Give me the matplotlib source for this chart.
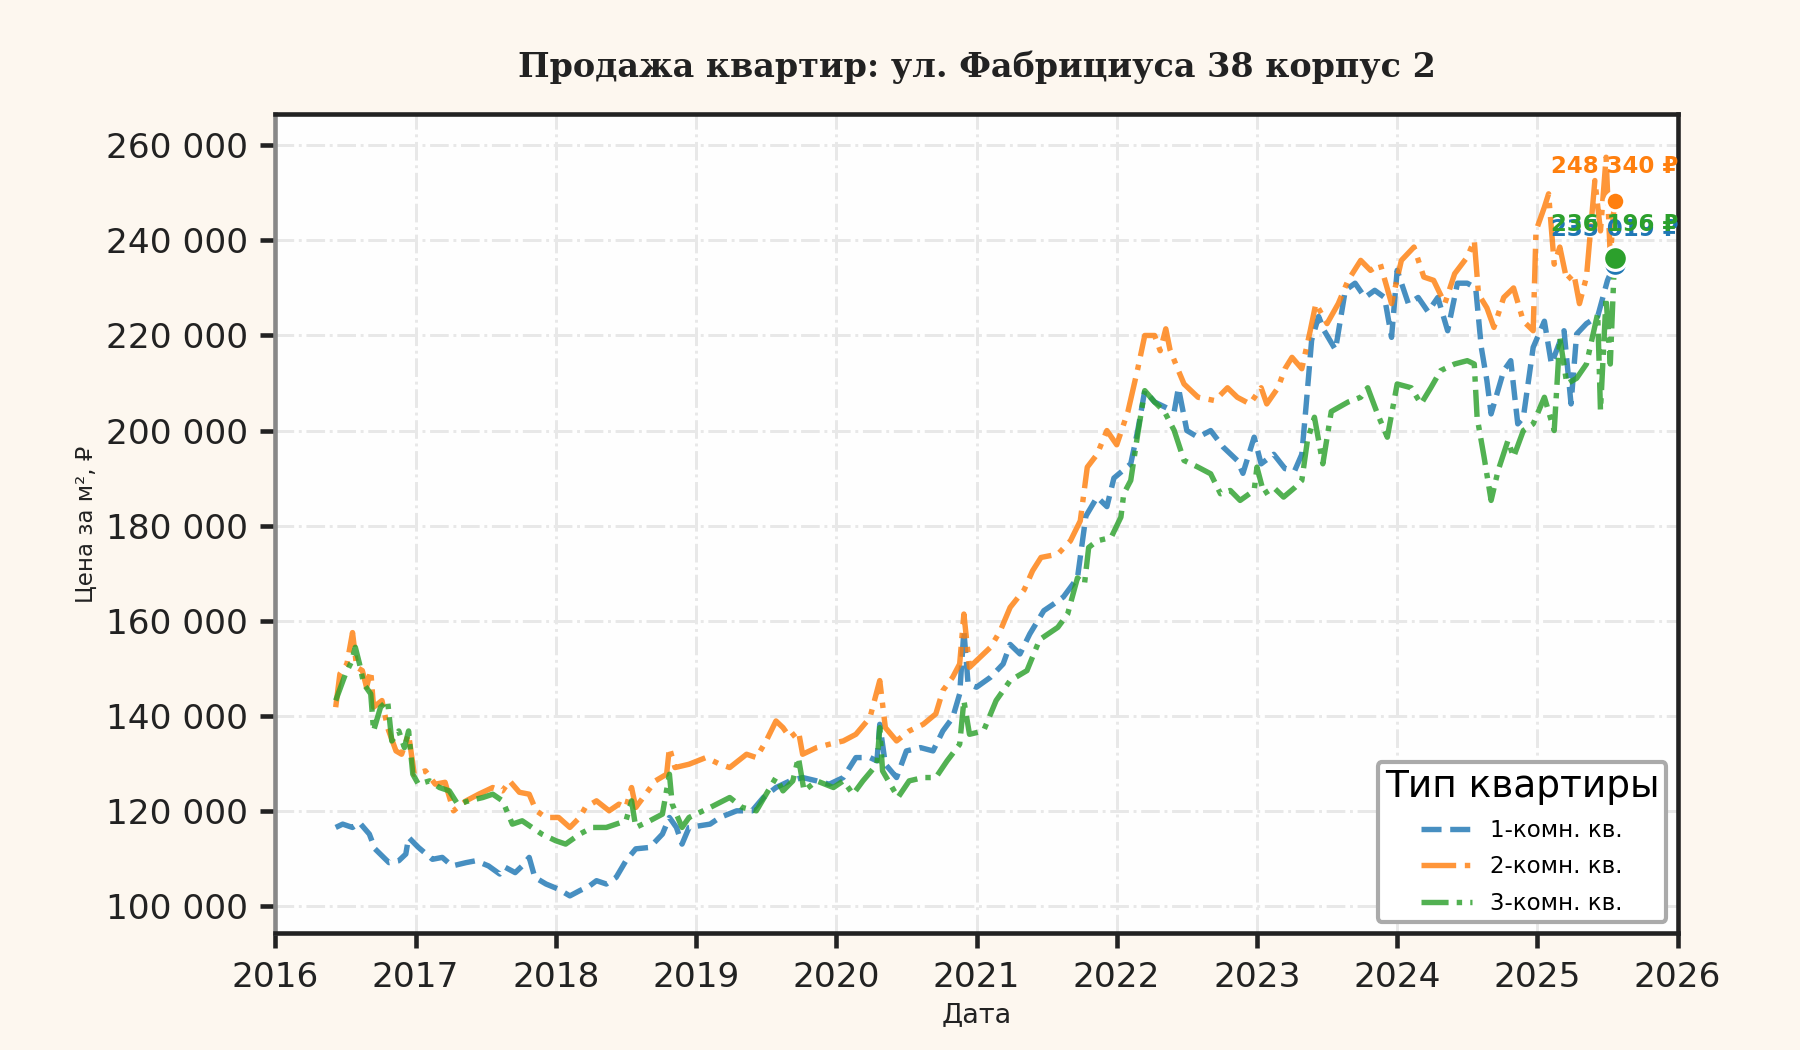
"""Продажа квартир: ул. Фабрициуса 38 корпус 2 — цена за м² по типам квартир."""

import numpy as np
import matplotlib
matplotlib.use("Agg")
import matplotlib.pyplot as plt
from matplotlib.ticker import FuncFormatter

plt.rcParams.update({
    "font.family": "DejaVu Sans",
    "figure.dpi": 150,
})

# ── Data (decimal year, thousand ₽ per m²) ────────────────────────────────
t_1k = [2016.43, 2016.48, 2016.55, 2016.60, 2016.67, 2016.71, 2016.81, 2016.88, 2016.93, 2016.95,
        2017.02, 2017.12, 2017.19, 2017.26, 2017.36, 2017.43, 2017.52, 2017.60, 2017.64, 2017.71,
        2017.76, 2017.81, 2017.85, 2017.93, 2018.02, 2018.10, 2018.17, 2018.24, 2018.29, 2018.36,
        2018.43, 2018.50, 2018.57, 2018.67, 2018.76, 2018.81, 2018.86, 2018.90, 2018.95, 2019.10,
        2019.17, 2019.29, 2019.40, 2019.48, 2019.57, 2019.67, 2019.76, 2019.86, 2019.95, 2020.05,
        2020.14, 2020.24, 2020.29, 2020.31, 2020.35, 2020.43, 2020.50, 2020.60, 2020.69, 2020.76,
        2020.83, 2020.88, 2020.91, 2020.94, 2021.00, 2021.10, 2021.19, 2021.24, 2021.31, 2021.38,
        2021.48, 2021.55, 2021.62, 2021.72, 2021.78, 2021.86, 2021.93, 2021.98, 2022.10, 2022.15,
        2022.20, 2022.27, 2022.34, 2022.41, 2022.44, 2022.50, 2022.58, 2022.67, 2022.76, 2022.86,
        2022.90, 2022.98, 2023.03, 2023.12, 2023.20, 2023.27, 2023.32, 2023.35, 2023.39, 2023.44,
        2023.48, 2023.56, 2023.63, 2023.70, 2023.77, 2023.84, 2023.91, 2023.96, 2024.00, 2024.08,
        2024.15, 2024.22, 2024.29, 2024.36, 2024.43, 2024.50, 2024.56, 2024.60, 2024.64, 2024.67,
        2024.76, 2024.81, 2024.86, 2024.90, 2024.97, 2025.05, 2025.10, 2025.19, 2025.24, 2025.28,
        2025.35, 2025.43, 2025.50, 2025.55]
p_1k = [116.5, 117.2, 116.5, 117.5, 115.1, 112.0, 109.1, 109.5, 110.9, 114.4,
        112.3, 109.8, 110.2, 108.4, 109.1, 109.5, 108.4, 106.7, 108.1, 107.0,
        108.4, 110.2, 106.0, 104.6, 103.5, 102.1, 103.2, 104.2, 105.3, 104.6,
        106.0, 109.5, 112.0, 112.3, 115.1, 118.6, 116.5, 113.0, 116.5, 117.2,
        118.6, 120.0, 120.0, 122.8, 124.9, 126.3, 127.0, 126.3, 125.6, 127.0,
        131.2, 131.2, 130.5, 138.2, 129.8, 127.0, 132.6, 133.3, 132.6, 136.8,
        139.6, 144.6, 157.9, 146.7, 146.0, 148.1, 150.9, 155.0, 153.0, 157.2,
        162.1, 163.5, 165.0, 169.0, 182.0, 186.0, 184.0, 190.0, 193.0, 200.0,
        208.4, 206.0, 205.0, 204.0, 209.0, 200.0, 198.6, 200.0, 196.5, 193.7,
        191.0, 198.6, 193.0, 195.0, 192.0, 191.6, 195.0, 205.0, 219.0, 224.0,
        221.0, 217.0, 229.5, 231.0, 228.0, 229.5, 228.0, 219.6, 233.7, 226.7,
        228.0, 225.0, 228.0, 221.0, 231.0, 231.0, 230.0, 217.5, 210.5, 203.5,
        212.6, 214.7, 201.4, 202.8, 217.5, 223.0, 214.0, 221.0, 205.6, 220.3,
        222.5, 224.0, 231.6, 235.019]

t_2k = [2016.43, 2016.46, 2016.51, 2016.55, 2016.58, 2016.62, 2016.65, 2016.68, 2016.70, 2016.76,
        2016.80, 2016.86, 2016.90, 2016.95, 2016.99, 2017.07, 2017.14, 2017.21, 2017.27, 2017.36,
        2017.45, 2017.55, 2017.62, 2017.67, 2017.74, 2017.81, 2017.86, 2017.93, 2018.02, 2018.10,
        2018.17, 2018.21, 2018.29, 2018.38, 2018.45, 2018.50, 2018.54, 2018.57, 2018.64, 2018.71,
        2018.79, 2018.81, 2018.85, 2018.95, 2019.07, 2019.17, 2019.24, 2019.36, 2019.43, 2019.50,
        2019.57, 2019.62, 2019.67, 2019.73, 2019.76, 2019.86, 2019.95, 2020.05, 2020.14, 2020.24,
        2020.31, 2020.35, 2020.43, 2020.52, 2020.62, 2020.71, 2020.76, 2020.83, 2020.88, 2020.91,
        2020.95, 2021.00, 2021.10, 2021.17, 2021.24, 2021.34, 2021.40, 2021.46, 2021.58, 2021.67,
        2021.74, 2021.79, 2021.86, 2021.93, 2022.00, 2022.08, 2022.15, 2022.20, 2022.27, 2022.31,
        2022.35, 2022.38, 2022.44, 2022.48, 2022.58, 2022.70, 2022.79, 2022.86, 2022.95, 2023.03,
        2023.07, 2023.15, 2023.20, 2023.25, 2023.32, 2023.38, 2023.42, 2023.50, 2023.58, 2023.65,
        2023.74, 2023.81, 2023.88, 2023.96, 2024.03, 2024.12, 2024.19, 2024.26, 2024.34, 2024.41,
        2024.50, 2024.55, 2024.58, 2024.64, 2024.69, 2024.76, 2024.83, 2024.90, 2024.97, 2024.99,
        2025.05, 2025.08, 2025.12, 2025.16, 2025.21, 2025.26, 2025.30, 2025.35, 2025.41, 2025.45,
        2025.49, 2025.52, 2025.55]
p_2k = [141.8, 148.8, 150.9, 157.5, 150.2, 149.5, 146.0, 149.5, 141.8, 143.2,
        137.5, 132.6, 131.9, 136.1, 127.7, 128.4, 125.6, 126.0, 120.0, 122.1,
        123.5, 124.9, 124.2, 126.3, 123.9, 123.5, 120.0, 118.6, 118.6, 116.5,
        118.6, 120.7, 122.1, 120.0, 121.4, 120.7, 124.9, 120.7, 123.5, 126.3,
        127.7, 133.3, 129.1, 129.8, 131.2, 129.8, 129.1, 131.9, 131.2, 134.7,
        138.9, 137.5, 135.4, 136.8, 131.9, 133.3, 134.0, 134.7, 136.1, 139.6,
        147.4, 137.5, 134.7, 136.8, 138.2, 140.4, 145.3, 148.1, 150.9, 161.4,
        150.2, 151.6, 154.4, 157.9, 162.8, 166.5, 170.5, 173.3, 174.0, 176.8,
        181.0, 192.3, 195.0, 200.0, 197.0, 204.0, 213.0, 220.0, 220.0, 216.8,
        221.4, 217.0, 212.6, 209.8, 207.0, 206.3, 209.0, 207.0, 205.6, 209.0,
        205.6, 209.0, 213.0, 215.4, 213.0, 221.0, 226.7, 222.5, 226.7, 231.6,
        235.8, 233.7, 235.0, 226.7, 235.8, 238.6, 232.3, 231.6, 226.7, 233.0,
        236.5, 240.0, 228.7, 225.8, 221.7, 228.0, 230.0, 223.0, 221.0, 242.0,
        247.0, 249.8, 235.0, 238.6, 231.6, 233.0, 226.7, 232.3, 252.6, 242.0,
        257.5, 236.5, 248.34]

t_3k = [2016.43, 2016.50, 2016.54, 2016.57, 2016.60, 2016.63, 2016.68, 2016.70, 2016.75, 2016.80,
        2016.83, 2016.88, 2016.92, 2016.95, 2016.98, 2017.02, 2017.10, 2017.17, 2017.24, 2017.30,
        2017.38, 2017.48, 2017.55, 2017.62, 2017.69, 2017.76, 2017.83, 2017.90, 2018.00, 2018.07,
        2018.17, 2018.26, 2018.36, 2018.43, 2018.50, 2018.54, 2018.57, 2018.67, 2018.76, 2018.81,
        2018.83, 2018.90, 2018.95, 2019.10, 2019.24, 2019.33, 2019.43, 2019.50, 2019.57, 2019.62,
        2019.69, 2019.73, 2019.77, 2019.86, 2019.98, 2020.05, 2020.12, 2020.19, 2020.29, 2020.31,
        2020.33, 2020.44, 2020.52, 2020.62, 2020.71, 2020.79, 2020.88, 2020.91, 2020.95, 2021.05,
        2021.14, 2021.24, 2021.36, 2021.45, 2021.58, 2021.65, 2021.72, 2021.77, 2021.80, 2021.86,
        2021.96, 2022.03, 2022.05, 2022.10, 2022.15, 2022.20, 2022.27, 2022.34, 2022.41, 2022.48,
        2022.58, 2022.67, 2022.74, 2022.81, 2022.88, 2022.98, 2023.00, 2023.05, 2023.12, 2023.19,
        2023.27, 2023.32, 2023.36, 2023.41, 2023.47, 2023.53, 2023.65, 2023.74, 2023.79, 2023.86,
        2023.93, 2024.00, 2024.10, 2024.17, 2024.24, 2024.31, 2024.41, 2024.50, 2024.55, 2024.57,
        2024.62, 2024.67, 2024.72, 2024.79, 2024.83, 2024.90, 2024.97, 2025.05, 2025.12, 2025.16,
        2025.21, 2025.28, 2025.35, 2025.43, 2025.45, 2025.49, 2025.52, 2025.55]
p_3k = [143.2, 148.8, 151.2, 154.4, 150.9, 146.7, 144.6, 136.8, 141.8, 143.2,
        134.7, 136.8, 133.3, 136.8, 127.7, 125.6, 126.3, 124.9, 124.2, 121.4,
        122.1, 122.8, 123.5, 122.1, 117.2, 117.9, 116.5, 115.1, 113.7, 113.0,
        115.1, 116.5, 116.5, 117.2, 117.9, 122.1, 116.5, 117.9, 119.3, 127.7,
        121.4, 116.5, 118.6, 120.7, 122.8, 120.7, 120.0, 123.5, 127.0, 124.2,
        126.3, 131.2, 124.2, 126.3, 124.9, 126.3, 123.5, 126.3, 129.8, 137.5,
        128.4, 122.8, 126.3, 127.0, 127.0, 130.5, 134.0, 143.2, 136.1, 136.8,
        143.2, 147.4, 149.5, 156.0, 158.6, 161.4, 169.0, 167.7, 175.4, 176.8,
        177.5, 181.8, 186.7, 189.5, 199.3, 208.4, 206.0, 204.0, 200.0, 193.7,
        192.3, 190.9, 186.7, 187.4, 185.3, 187.4, 192.3, 186.7, 188.0, 186.0,
        188.0, 189.5, 197.9, 202.8, 193.0, 204.0, 206.0, 207.0, 209.0, 203.5,
        198.6, 209.8, 209.0, 205.6, 209.0, 212.6, 214.0, 214.7, 214.0, 202.8,
        194.4, 185.3, 191.6, 197.9, 194.4, 200.0, 201.4, 207.0, 200.0, 219.6,
        209.8, 211.0, 214.0, 224.6, 204.2, 228.0, 214.0, 236.196]

labels = ["1-комн. кв.", "2-комн. кв.", "3-комн. кв."]
last_prices = [235019, 248340, 236196]

# ── Styles ────────────────────────────────────────────────────────────────
colors = ["#1f77b4", "#ff7f0e", "#2ca02c"]
styles = ["--", "-.", (0, (5, 1.5, 1, 1.5))]
dot_sizes = [130, 80, 130]

fig = plt.figure(figsize=(12, 7), facecolor="#fdf7ef")
ax = fig.add_axes([0.153, 0.111, 0.779, 0.780])
ax.set_facecolor("#fefefe")

series = [(t_1k, p_1k), (t_2k, p_2k), (t_3k, p_3k)]
for (t, p), lab, c, ls in zip(series, labels, colors, styles):
    ax.plot(t, np.array(p) * 1000, color=c, linestyle=ls, linewidth=2.6,
            alpha=0.82, label=lab, zorder=3)

# last point markers + labels (overlap as in the original)
for (t, p), val, c, s in zip(series, last_prices, colors, dot_sizes):
    ax.scatter(t[-1], val, s=s, color=c, edgecolor="white", linewidth=1.5, zorder=5)
    ax.annotate(f"{val:,}".replace(",", " ") + " ₽", (t[-1], val),
                xytext=(0, 11), textcoords="offset points", ha="center",
                va="bottom", fontsize=11, fontweight="bold", color=c,
                clip_on=True, annotation_clip=False, zorder=6)

ax.set_xlim(2016, 2026)
ax.set_ylim(94200, 266500)
ax.set_xticks(range(2016, 2027))
ax.set_yticks(range(100000, 260001, 20000))
ax.yaxis.set_major_formatter(FuncFormatter(lambda v, _: f"{int(v):,}".replace(",", " ")))

ax.grid(True, color="#e8e8e8", linestyle="-.", linewidth=1.4, zorder=0)
ax.tick_params(axis="both", labelsize=16.5, length=7, width=2.2, color="#222222",
               labelcolor="#222222", pad=6)

for side in ["top", "right", "bottom"]:
    ax.spines[side].set_color("#222222")
    ax.spines[side].set_linewidth(2.2)
ax.spines["left"].set_color("#888888")
ax.spines["left"].set_linewidth(2.2)

ax.set_title("Продажа квартир: ул. Фабрициуса 38 корпус 2", fontsize=16,
             fontweight="bold", family="DejaVu Serif", color="#222222", pad=18)
ax.set_xlabel("Дата", fontsize=13, color="#222222")
ax.set_ylabel("Цена за м², ₽", fontsize=11, color="#222222")

leg = ax.legend(title="Тип квартиры", loc="lower right", fontsize=11,
                title_fontsize=18, frameon=True, fancybox=True,
                handlelength=2.2, borderpad=0.3, labelspacing=0.6)
leg.get_frame().set_edgecolor("#aaaaaa")
leg.get_frame().set_linewidth(2)
leg.get_frame().set_facecolor("white")
leg.get_frame().set_alpha(1)

fig.savefig("out.png", dpi=150, facecolor=fig.get_facecolor())
plt.close(fig)
